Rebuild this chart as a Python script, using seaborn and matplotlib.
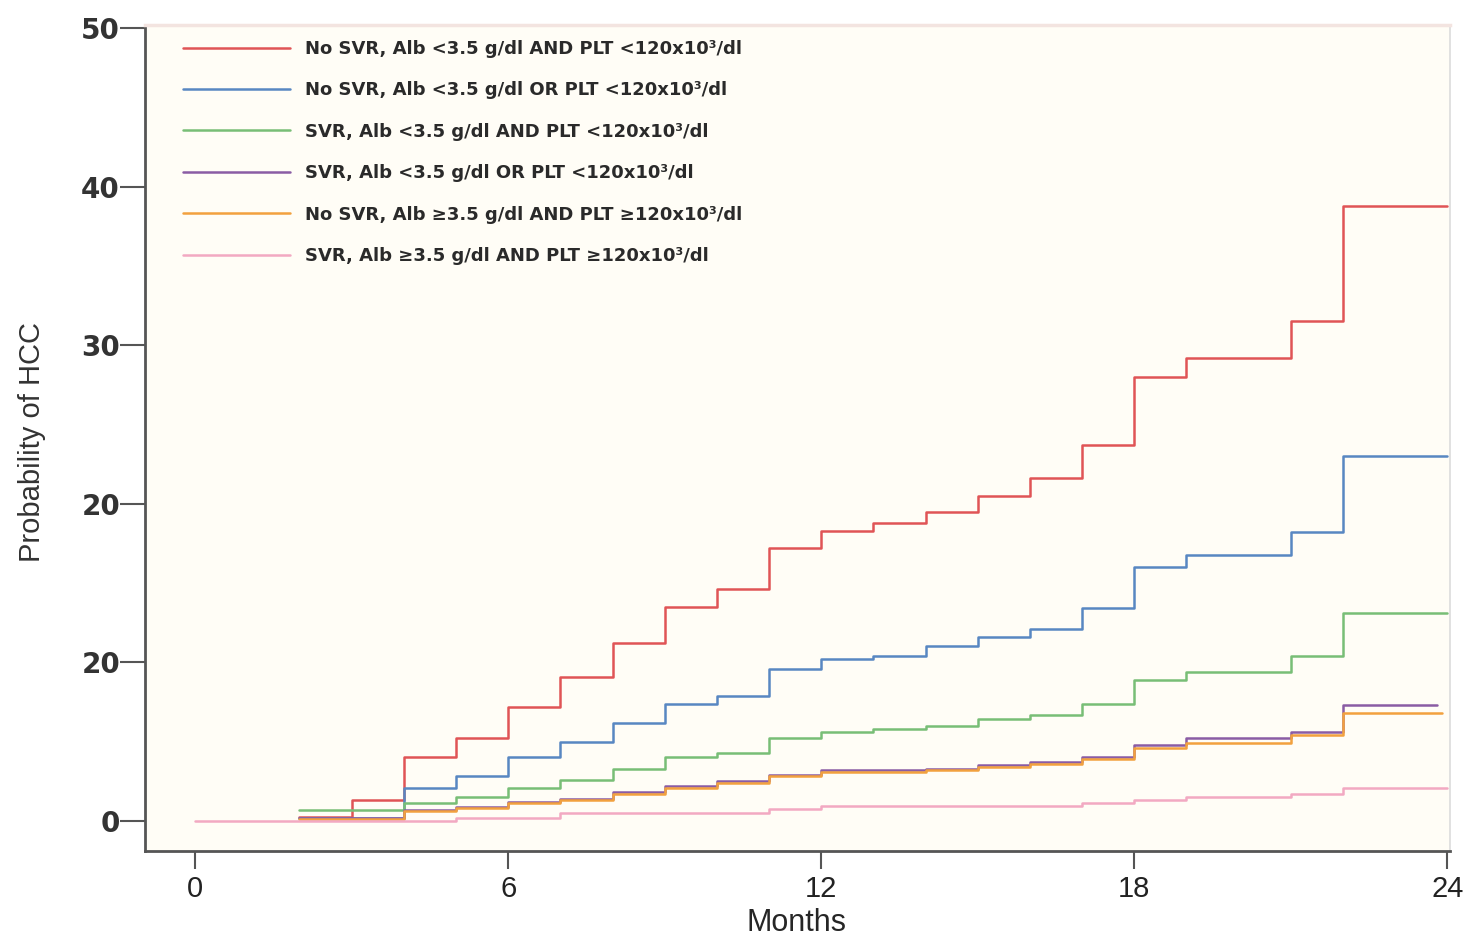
import pandas as pd
import matplotlib.pyplot as plt
import seaborn as sns
from matplotlib.lines import Line2D

# --- Data ---
groups = [
    "No SVR, Alb <3.5 g/dl AND PLT <120x10³/dl",
    "No SVR, Alb <3.5 g/dl OR PLT <120x10³/dl",
    "SVR, Alb <3.5 g/dl AND PLT <120x10³/dl",
    "SVR, Alb <3.5 g/dl OR PLT <120x10³/dl",
    "No SVR, Alb ≥3.5 g/dl AND PLT ≥120x10³/dl",
    "SVR, Alb ≥3.5 g/dl AND PLT ≥120x10³/dl",
]
colors = ["#e05456", "#5887c2", "#78be76", "#8a5ca4", "#f2a13e", "#f2a9c2"]

red_months = [2, 3, 4, 5, 6, 7, 8, 9, 10, 11, 12, 13, 14, 15, 16, 17, 18, 19, 21, 22, 24]
red_prob = [0.25, 1.3, 4.0, 5.2, 7.2, 9.1, 11.2, 13.5, 14.6, 17.2, 18.3, 18.8, 19.5, 20.5,
            21.6, 23.7, 28.0, 29.2, 31.5, 38.8, 38.8]

blue_months = [2, 4, 5, 6, 7, 8, 9, 10, 11, 12, 13, 14, 15, 16, 17, 18, 19, 21, 22, 24]
blue_prob = [0.2, 2.1, 2.8, 4.0, 5.0, 6.2, 7.4, 7.9, 9.6, 10.2, 10.4, 11.0, 11.6, 12.1,
             13.4, 16.0, 16.8, 18.2, 23.0, 23.0]

green_months = [2, 4, 5, 6, 7, 8, 9, 10, 11, 12, 13, 14, 15, 16, 17, 18, 19, 21, 22, 24]
green_prob = [0.7, 1.1, 1.5, 2.1, 2.6, 3.3, 4.0, 4.3, 5.2, 5.6, 5.8, 6.0, 6.4, 6.7,
              7.4, 8.9, 9.4, 10.4, 13.1, 13.1]

purple_months = [2, 4, 5, 6, 7, 8, 9, 10, 11, 12, 14, 15, 16, 17, 18, 19, 21, 22, 23.8]
purple_prob = [0.2, 0.7, 0.9, 1.2, 1.4, 1.8, 2.2, 2.5, 2.9, 3.2, 3.3, 3.5, 3.7, 4.0,
               4.8, 5.2, 5.6, 7.3, 7.3]

orange_months = [2, 4, 5, 6, 7, 8, 9, 10, 11, 12, 14, 15, 16, 17, 18, 19, 21, 22, 23.9]
orange_prob = [0.1, 0.6, 0.8, 1.1, 1.3, 1.7, 2.1, 2.4, 2.8, 3.1, 3.2, 3.4, 3.6, 3.9,
               4.6, 4.9, 5.4, 6.8, 6.8]

pink_months = [0, 5, 7, 11, 12, 17, 18, 19, 21, 22, 24]
pink_prob = [0.0, 0.2, 0.5, 0.75, 0.95, 1.1, 1.3, 1.5, 1.7, 2.1, 2.1]

x_ticks = [0, 6, 12, 18, 24]
y_ticks = [0, 10, 20, 30, 40, 50]
y_tick_labels = ["0", "20", "20", "30", "40", "50"]

series = [(red_months, red_prob), (blue_months, blue_prob), (green_months, green_prob),
          (purple_months, purple_prob), (orange_months, orange_prob), (pink_months, pink_prob)]

frames = []
for name, (m, p) in zip(groups, series):
    frames.append(pd.DataFrame({"Months": m, "Probability": p, "Group": name}))
df = pd.concat(frames, ignore_index=True)

# --- Plot ---
sns.set_style("white")
plt.rcParams['font.family'] = ['Liberation Sans', 'DejaVu Sans']

fig = plt.figure(figsize=(14.66, 9.36), dpi=100)
ax = fig.add_axes([145 / 1466, 85 / 936, 1305 / 1466, 826 / 936])
ax.set_facecolor("#fffdf6")

sns.lineplot(data=df, x="Months", y="Probability", hue="Group", hue_order=groups,
             palette=colors, drawstyle="steps-post", estimator=None, sort=False,
             linewidth=1.8, legend=False, ax=ax)

ax.set_xlim(-0.96, 24.05)
ax.set_ylim(-1.9, 50.2)
ax.set_xticks(x_ticks)
ax.set_xticklabels([str(t) for t in x_ticks], fontsize=21)
ax.set_yticks(y_ticks)
ax.set_yticklabels(y_tick_labels, fontsize=20, fontweight="bold", family="DejaVu Sans")
ax.set_xlabel("Months", fontsize=22)
ax.set_ylabel("Probability of HCC", fontsize=21, color="#333333")
ax.xaxis.set_label_coords(0.4996, -0.069)
ax.yaxis.set_label_coords(-0.076, 0.495)
ax.tick_params(axis="y", left=True, direction="out", length=18, width=1.5, color="#555555",
               pad=0, labelcolor="#333333")
ax.tick_params(axis="x", bottom=True, direction="out", length=13, width=1.5, color="#555555",
               pad=4, labelcolor="#222222")

for side in ["left", "bottom"]:
    ax.spines[side].set_color("#555555")
    ax.spines[side].set_linewidth(2)
ax.spines["top"].set_color("#f3e4e0")
ax.spines["top"].set_linewidth(2.5)
ax.spines["right"].set_color("#dcdcdc")
ax.spines["right"].set_linewidth(1.2)

handles = [Line2D([0], [0], color=c, linewidth=1.8) for c in colors]
ax.legend(handles, groups, loc="upper left", bbox_to_anchor=(38 / 1305, 0.982),
          frameon=False, prop={"family": "DejaVu Sans", "size": 13, "weight": "bold"},
          handlelength=5.95, handletextpad=0.8, labelspacing=1.3, borderpad=0,
          borderaxespad=0, labelcolor="#2a2a2a")

fig.savefig("out.png", dpi=100)
